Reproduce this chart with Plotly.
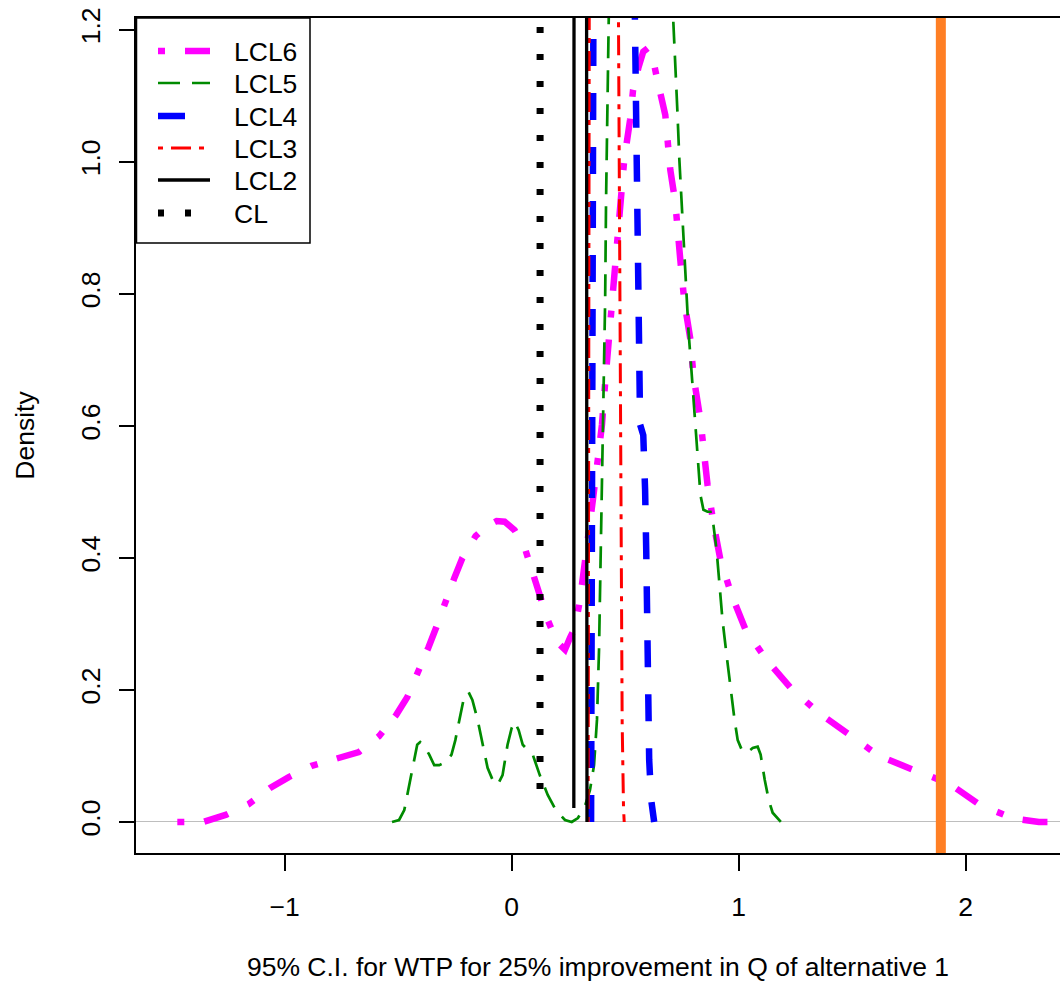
import plotly.graph_objects as go

# ---------------- data ----------------
# LCL6 (magenta) density curve
lcl6_x = [-1.473, -1.358, -1.257, -1.159, -1.062, -0.982, -0.881, -0.770, -0.673, -0.584,
          -0.509, -0.460, -0.412, -0.367, -0.332, -0.296, -0.252, -0.217, -0.159, -0.111,
          -0.066, -0.031, 0.013, 0.058, 0.111, 0.159, 0.199, 0.235, 0.257, 0.279,
          0.301, 0.323, 0.358, 0.381, 0.398, 0.412, 0.425, 0.438, 0.451, 0.465,
          0.478, 0.496, 0.522, 0.535, 0.558, 0.580, 0.602, 0.619, 0.642, 0.677,
          0.699, 0.721, 0.743, 0.761, 0.788, 0.801, 0.832, 0.863, 0.889, 0.920,
          0.969, 1.031, 1.124, 1.230, 1.354, 1.487, 1.619, 1.770, 1.929, 2.062,
          2.212, 2.323, 2.440]
lcl6_y = [0.000, 0.000, 0.011, 0.027, 0.052, 0.068, 0.085, 0.097, 0.106, 0.130,
          0.162, 0.189, 0.226, 0.264, 0.295, 0.332, 0.370, 0.400, 0.433, 0.448,
          0.456, 0.455, 0.442, 0.415, 0.359, 0.306, 0.273, 0.261, 0.279, 0.294,
          0.336, 0.389, 0.488, 0.553, 0.602, 0.665, 0.715, 0.779, 0.836, 0.889,
          0.942, 1.003, 1.064, 1.109, 1.142, 1.167, 1.173, 1.162, 1.124, 1.071,
          0.988, 0.939, 0.852, 0.788, 0.730, 0.676, 0.609, 0.511, 0.453, 0.397,
          0.344, 0.291, 0.245, 0.203, 0.165, 0.132, 0.100, 0.079, 0.058, 0.026,
          0.005, 0.000, 0.000]

# LCL5 (green) density curve
lcl5_x = [-0.527, -0.496, -0.473, -0.460, -0.442, -0.429, -0.416, -0.403, -0.385, -0.363,
          -0.341, -0.319, -0.288, -0.265, -0.248, -0.230, -0.212, -0.190, -0.173, -0.150,
          -0.128, -0.106, -0.084, -0.062, -0.040, -0.018, 0.000, 0.013, 0.031, 0.049,
          0.071, 0.093, 0.124, 0.159, 0.195, 0.235, 0.265, 0.292, 0.323, 0.345,
          0.363, 0.376, 0.385, 0.394, 0.403, 0.412, 0.416, 0.420, 0.425, 0.470,
          0.560, 0.660, 0.712, 0.721, 0.730, 0.739, 0.748, 0.757, 0.765, 0.779,
          0.792, 0.805, 0.819, 0.832, 0.845, 0.863, 0.876, 0.889, 0.903, 0.916,
          0.929, 0.947, 0.965, 0.982, 0.996, 1.018, 1.040, 1.062, 1.084, 1.097,
          1.115, 1.133, 1.150, 1.186]
lcl5_y = [0.000, 0.003, 0.018, 0.041, 0.071, 0.094, 0.117, 0.121, 0.115, 0.102,
          0.086, 0.086, 0.091, 0.102, 0.124, 0.155, 0.185, 0.197, 0.185, 0.155,
          0.117, 0.082, 0.064, 0.056, 0.071, 0.117, 0.142, 0.152, 0.139, 0.117,
          0.109, 0.102, 0.071, 0.041, 0.018, 0.003, 0.000, 0.006, 0.024, 0.048,
          0.086, 0.155, 0.261, 0.427, 0.609, 0.791, 0.942, 1.094, 1.215, 2.200,
          2.600, 1.900, 1.215, 1.155, 1.079, 1.003, 0.942, 0.882, 0.821, 0.745,
          0.685, 0.624, 0.548, 0.495, 0.473, 0.470, 0.470, 0.450, 0.412, 0.352,
          0.306, 0.253, 0.200, 0.155, 0.124, 0.106, 0.106, 0.112, 0.114, 0.102,
          0.064, 0.033, 0.014, 0.000]

# LCL4 (blue) density curve
lcl4_x = [0.350, 0.352, 0.355, 0.358, 0.370, 0.450, 0.530, 0.540, 0.544, 0.549,
          0.553, 0.558, 0.562, 0.566, 0.580, 0.584, 0.588, 0.593, 0.597, 0.602,
          0.606, 0.615, 0.624, 0.628]
lcl4_y = [0.000, 0.300, 0.800, 1.300, 2.400, 3.000, 2.000, 1.300, 1.185, 1.094,
          0.973, 0.821, 0.670, 0.602, 0.586, 0.564, 0.503, 0.412, 0.306, 0.185,
          0.094, 0.033, 0.011, 0.000]

# LCL3 (red) density curve
lcl3_x = [0.337, 0.339, 0.341, 0.343, 0.400, 0.466, 0.471, 0.474, 0.478, 0.482,
          0.487, 0.493, 0.496]
lcl3_y = [0.000, 0.400, 1.000, 1.500, 2.500, 1.600, 1.200, 1.000, 0.700, 0.400,
          0.150, 0.020, 0.000]

# LCL2 (black solid) density curve
lcl2_x = [0.274, 0.275, 0.300, 0.330, 0.331, 0.332]
lcl2_y = [0.021, 1.500, 2.800, 1.500, 0.500, 0.000]

# CL (black dotted) density curve
cl_x = [0.125, 0.125, 0.126]
cl_y = [0.050, 1.500, 3.000]

# reference value (orange vertical line)
ref_value = 1.891

series_names = ["LCL6", "LCL5", "LCL4", "LCL3", "LCL2", "CL"]
x_ticks = [-1, 0, 1, 2]
x_tick_labels = ["\u22121", "0", "1", "2"]
y_ticks = [0.0, 0.2, 0.4, 0.6, 0.8, 1.0, 1.2]
y_tick_labels = ["0.0", "0.2", "0.4", "0.6", "0.8", "1.0", "1.2"]

# ---------------- styles ----------------
styles = {
    "LCL6": dict(color="#FF00FF", width=6.5, dash="7px,20px,25px,22px"),
    "LCL5": dict(color="#008B00", width=2.7, dash="22px,12px"),
    "LCL4": dict(color="#0000FF", width=6.5, dash="27px,27px"),
    "LCL3": dict(color="#FF0000", width=3.0, dash="5px,8px,20px,8px"),
    "LCL2": dict(color="#000000", width=3.3, dash="solid"),
    "CL": dict(color="#000000", width=7, dash="6px,21px"),
}
data = {
    "LCL6": (lcl6_x, lcl6_y),
    "LCL5": (lcl5_x, lcl5_y),
    "LCL4": (lcl4_x, lcl4_y),
    "LCL3": (lcl3_x, lcl3_y),
    "LCL2": (lcl2_x, lcl2_y),
    "CL": (cl_x, cl_y),
}

FONT = "Liberation Sans, Arial, Helvetica, sans-serif"
FS = 26.5
W, H = 1060, 986
ML, MR, MT, MB = 136, 0, 18, 133
PW, PH = W - ML - MR, H - MT - MB


def px_x(p):
    return (p - ML) / PW


def px_y(p):
    return (H - MB - p) / PH


fig = go.Figure()
for name in series_names:
    xs, ys = data[name]
    st = styles[name]
    fig.add_trace(go.Scatter(x=xs, y=ys, mode="lines", name=name, showlegend=False,
                             hoverinfo="skip",
                             line=dict(color=st["color"], width=st["width"], dash=st["dash"])))

# orange reference line
fig.add_shape(type="line", xref="x", yref="paper", x0=ref_value, x1=ref_value, y0=0, y1=1,
              line=dict(color="#FF7F24", width=10))

# ---------------- legend (drawn like R's legend box) ----------------
fig.add_shape(type="rect", xref="paper", yref="paper",
              x0=px_x(136.5), x1=px_x(310), y0=px_y(243), y1=1,
              line=dict(color="black", width=1.5), fillcolor="white", layer="above")
row_y = [51, 83, 116, 148, 180, 213]
for name, ry in zip(series_names, row_y):
    st = styles[name]
    fig.add_shape(type="line", xref="paper", yref="paper",
                  x0=px_x(158), x1=px_x(210), y0=px_y(ry), y1=px_y(ry),
                  line=dict(color=st["color"], width=st["width"], dash=st["dash"]), layer="above")
    fig.add_annotation(xref="paper", yref="paper", x=px_x(232), y=px_y(ry + 1),
                       text=name, showarrow=False, xanchor="left", yanchor="middle",
                       font=dict(family=FONT, size=FS, color="black"))

fig.update_layout(
    width=W, height=H,
    margin=dict(l=ML, r=MR, t=MT, b=MB, autoexpand=False),
    paper_bgcolor="white", plot_bgcolor="white",
    font=dict(family=FONT, size=FS, color="black"),
    showlegend=False,
    hovermode=False,
)
fig.update_xaxes(
    range=[-1.655, 2.416], tickvals=x_ticks, ticktext=x_tick_labels,
    ticks="outside", ticklen=16, tickwidth=1.5, tickcolor="black",
    showline=True, linecolor="black", linewidth=1.5, mirror=True,
    showgrid=False, zeroline=False, tickfont=dict(size=FS),
    ticklabelstandoff=13, ticklabeloverflow="allow",
    title=dict(text="95% C.I. for WTP for 25% improvement in Q of alternative 1",
               font=dict(size=FS), standoff=37),
    automargin=False,
)
fig.update_yaxes(
    range=[-0.047, 1.218], tickvals=y_ticks, ticktext=y_tick_labels,
    ticks="outside", ticklen=15, tickwidth=1.5, tickcolor="black",
    showline=True, linecolor="black", linewidth=1.5, mirror=False,
    showgrid=False, zeroline=True, zerolinecolor="#BEBEBE", zerolinewidth=1,
    tickangle=-90, tickfont=dict(size=FS), ticklabelstandoff=9, ticklabeloverflow="allow",
    title=dict(text="Density", font=dict(size=FS), standoff=33),
    automargin=False,
)

# remove the page's default body margin so the figure sits at the window's corner
fig.write_html("out.html", config={"displayModeBar": False},
               post_script="document.body.style.margin='0';document.body.style.overflow='hidden';")
